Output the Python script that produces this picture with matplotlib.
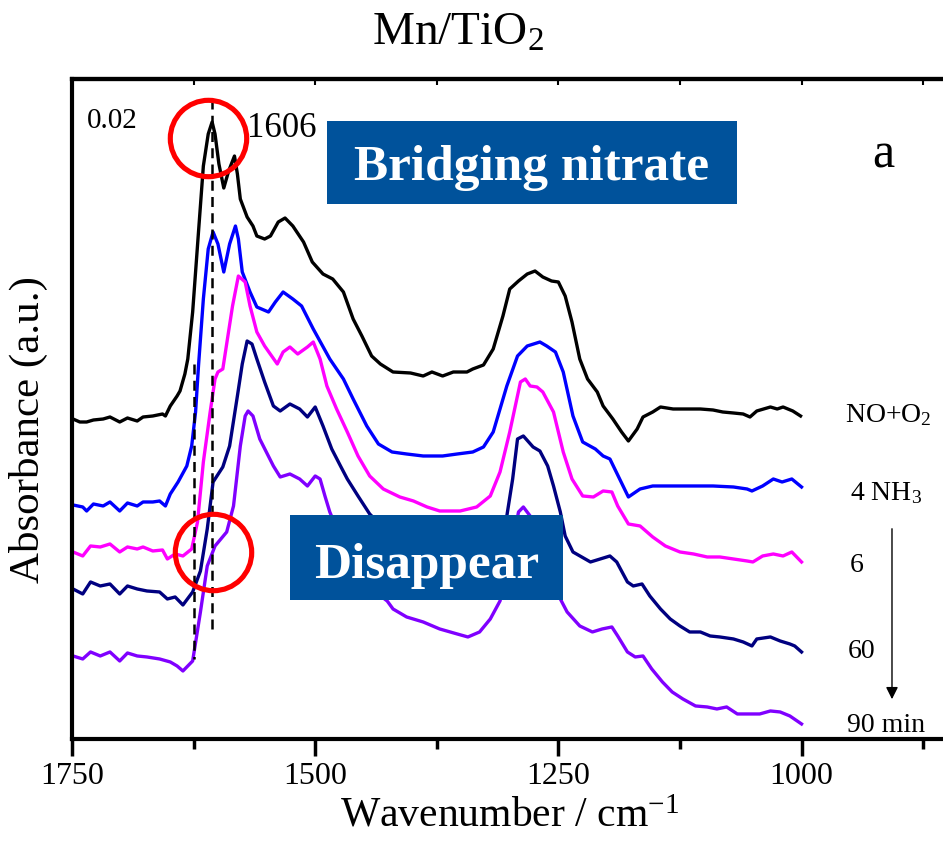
import numpy as np
import matplotlib
matplotlib.use("Agg")
import matplotlib.pyplot as plt
from matplotlib.patches import Rectangle

plt.rcParams['font.family'] = ['Liberation Serif', 'DejaVu Serif']
plt.rcParams['mathtext.fontset'] = 'custom'
plt.rcParams['mathtext.rm'] = 'Liberation Serif'
plt.rcParams['mathtext.it'] = 'Liberation Serif:italic'

# (wavenumber, absorbance) pairs, spectra already stacked with offsets
nox = [(1749,.0320),(1742,.0317),(1735,.0317),(1728,.0319),(1718,.0320),(1711,.0322),
       (1701,.0317),(1693,.0321),(1683,.0318),(1677,.0322),(1667,.0323),(1657,.0325),
       (1654,.0323),(1649,.0333),(1642,.0343),(1639,.0348),(1634,.0365),(1631,.0380),
       (1626,.0427),(1620,.0507),(1615,.0573),(1610,.0605),(1606,.0617),(1603,.0605),
       (1599,.0575),(1594,.0551),(1589,.0568),(1583,.0583),(1580,.0565),(1577,.0540),
       (1570,.0522),(1564,.0513),(1560,.0503),(1552,.0500),(1546,.0503),(1538,.0517),
       (1531,.0521),(1523,.0513),(1512,.0497),(1503,.0477),(1492,.0465),(1482,.0460),
       (1471,.0447),(1461,.0420),(1452,.0403),(1442,.0383),(1433,.0375),(1420,.0367),
       (1402,.0366),(1389,.0363),(1380,.0367),(1369,.0363),(1358,.0367),(1344,.0367),
       (1338,.0370),(1327,.0374),(1317,.0390),(1307,.0423),(1300,.0450),(1291,.0458),
       (1282,.0465),(1274,.0468),(1266,.0462),(1257,.0458),(1250,.0457),(1243,.0443),
       (1236,.0417),(1228,.0380),(1220,.0360),(1210,.0347),(1204,.0333),(1194,.0320),
       (1185,.0307),(1178,.0298),(1169,.0310),(1163,.0322),(1153,.0327),(1145,.0332),
       (1132,.0330),(1118,.0330),(1104,.0330),(1091,.0329),(1081,.0327),(1070,.0326),
       (1060,.0325),(1053,.0322),(1046,.0328),(1032,.0332),(1025,.0330),(1019,.0332),
       (1009,.0328),(1001,.0323)]

nh3_4 = [(1749,.0234),(1739,.0232),(1735,.0228),(1728,.0235),(1718,.0233),(1711,.0237),
         (1701,.0228),(1693,.0236),(1683,.0233),(1677,.0237),(1667,.0237),(1660,.0238),
         (1654,.0233),(1649,.0245),(1641,.0257),(1632,.0273),(1627,.0293),(1623,.0327),
         (1620,.0373),(1615,.0440),(1610,.0490),(1605,.0507),(1600,.0495),(1594,.0467),
         (1588,.0495),(1582,.0513),(1579,.0500),(1575,.0467),(1567,.0447),(1560,.0432),
         (1548,.0427),(1541,.0437),(1533,.0447),(1523,.0440),(1514,.0433),(1502,.0410),
         (1485,.0380),(1471,.0360),(1461,.0340),(1447,.0313),(1435,.0295),(1421,.0287),
         (1406,.0285),(1389,.0283),(1369,.0283),(1354,.0285),(1338,.0287),(1327,.0292),
         (1317,.0307),(1310,.0330),(1303,.0353),(1292,.0383),(1282,.0393),(1269,.0397),
         (1262,.0393),(1253,.0387),(1245,.0367),(1235,.0323),(1225,.0297),(1212,.0290),
         (1204,.0283),(1197,.0280),(1187,.0260),(1178,.0242),(1166,.0250),(1153,.0253),
         (1125,.0253),(1107,.0253),(1091,.0253),(1070,.0252),(1056,.0250),(1051,.0248),
         (1040,.0253),(1029,.0260),(1020,.0257),(1010,.0260),(1000,.0252)]

nh3_6 = [(1749,.0187),(1739,.0183),(1731,.0193),(1721,.0192),(1711,.0195),(1701,.0187),
         (1693,.0192),(1683,.0190),(1677,.0192),(1667,.0188),(1657,.0189),(1652,.0180),
         (1644,.0185),(1636,.0183),(1627,.0190),(1621,.0217),(1615,.0277),(1608,.0327),
         (1603,.0360),(1600,.0367),(1595,.0370),(1585,.0433),(1579,.0463),(1572,.0457),
         (1567,.0433),(1560,.0407),(1552,.0393),(1539,.0375),(1533,.0387),(1526,.0392),
         (1518,.0385),(1508,.0392),(1502,.0397),(1495,.0380),(1488,.0353),(1478,.0330),
         (1467,.0307),(1456,.0283),(1444,.0263),(1430,.0250),(1413,.0242),(1399,.0238),
         (1385,.0232),(1372,.0228),(1351,.0228),(1334,.0232),(1320,.0243),(1310,.0267),
         (1300,.0307),(1289,.0357),(1284,.0360),(1279,.0353),(1272,.0352),(1266,.0347),
         (1255,.0327),(1245,.0287),(1236,.0260),(1225,.0243),(1214,.0242),(1204,.0248),
         (1195,.0247),(1189,.0233),(1178,.0215),(1166,.0213),(1153,.0202),(1140,.0193),
         (1125,.0187),(1111,.0185),(1097,.0182),(1084,.0182),(1070,.0180),(1056,.0178),
         (1050,.0177),(1040,.0183),(1029,.0185),(1019,.0183),(1010,.0187),(1000,.0177)]

nh3_60 = [(1749,.0150),(1739,.0145),(1731,.0157),(1721,.0153),(1711,.0155),(1701,.0145),
          (1693,.0153),(1683,.0150),(1673,.0148),(1660,.0147),(1652,.0140),(1644,.0142),
          (1636,.0134),(1626,.0147),(1618,.0168),(1611,.0210),(1605,.0257),(1595,.0272),
          (1588,.0293),(1580,.0343),(1575,.0375),(1570,.0398),(1565,.0395),(1560,.0380),
          (1552,.0357),(1543,.0333),(1536,.0328),(1526,.0335),(1516,.0330),(1508,.0322),
          (1500,.0332),(1492,.0313),(1483,.0290),(1474,.0273),(1467,.0260),(1456,.0243),
          (1444,.0225),(1413,.0195),(1372,.0180),(1336,.0185),(1315,.0200),(1303,.0223),
          (1297,.0260),(1292,.0300),(1286,.0303),(1276,.0292),(1269,.0288),(1261,.0273),
          (1255,.0253),(1248,.0227),(1243,.0203),(1235,.0187),(1217,.0177),(1207,.0180),
          (1197,.0183),(1190,.0177),(1179,.0157),(1173,.0153),(1164,.0155),(1156,.0143),
          (1145,.0130),(1135,.0120),(1125,.0113),(1115,.0107),(1104,.0107),(1094,.0103),
          (1084,.0102),(1070,.0100),(1060,.0097),(1051,.0093),(1046,.0100),(1032,.0102),
          (1022,.0098),(1012,.0095),(1007,.0093),(1000,.0087)]

nh3_90 = [(1749,.0083),(1739,.0080),(1731,.0087),(1721,.0083),(1711,.0087),(1701,.0078),
          (1693,.0086),(1683,.0083),(1673,.0082),(1660,.0080),(1649,.0077),(1642,.0073),
          (1636,.0068),(1626,.0078),(1618,.0127),(1611,.0173),(1603,.0193),(1591,.0207),
          (1584,.0233),(1577,.0293),(1572,.0323),(1569,.0328),(1564,.0323),(1557,.0300),
          (1543,.0273),(1536,.0262),(1526,.0265),(1516,.0260),(1508,.0253),(1500,.0263),
          (1495,.0260),(1490,.0243),(1485,.0227),(1469,.0190),(1449,.0155),(1426,.0138),
          (1420,.0130),(1406,.0122),(1389,.0117),(1372,.0110),(1354,.0105),(1343,.0102),
          (1331,.0107),(1320,.0120),(1310,.0138),(1300,.0180),(1291,.0227),(1286,.0232),
          (1279,.0223),(1269,.0205),(1259,.0175),(1248,.0140),(1241,.0127),(1228,.0113),
          (1215,.0107),(1205,.0110),(1195,.0112),(1189,.0103),(1179,.0087),(1171,.0082),
          (1163,.0083),(1154,.0070),(1143,.0057),(1133,.0047),(1122,.0040),(1109,.0033),
          (1097,.0032),(1087,.0030),(1077,.0032),(1066,.0025),(1056,.0025),(1043,.0025),
          (1032,.0028),(1022,.0027),(1012,.0023),(1000,.0015)]

spectra = [nox, nh3_4, nh3_6, nh3_60, nh3_90]
colors = ['#000000', '#0000ff', '#ff00ff', '#000080', '#8000ff']

fig = plt.figure(figsize=(9.43, 8.45), dpi=100)
ax = fig.add_axes([0.0764, 0.1243, 0.9283, 0.7810])

for spec, c in zip(spectra, colors):
    wn, a = np.array(spec).T
    ax.plot(wn, a, color=c, lw=2.4, solid_joinstyle='round')

# guide lines at 1606 and 1625
ax.plot([1606, 1606], [.0640, .0107], color='k', lw=1.8, ls=(0, (4, 2.5)))
ax.plot([1625, 1625], [.0375, .0080], color='k', lw=1.8, ls=(0, (4, 2.5)))

# red rings
ax.plot([1610], [.0601], 'o', ms=55, mfc='none', mec='#ff0000', mew=3.7)
ax.plot([1605], [.0187], 'o', ms=55, mfc='none', mec='#ff0000', mew=3.7)

ax.text(1735, .0612, '0.02', fontsize=21, va='baseline')
ax.text(1570, .0603, '1606', fontsize=25, va='baseline')
ax.text(916, .0573, 'a', fontsize=36, va='baseline', ha='center')

# labelled boxes
box = '#00529b'
ax.add_patch(Rectangle((0.2913, 0.8106), 0.4684, 0.1258, transform=ax.transAxes,
                       facecolor=box, edgecolor='none', zorder=5))
ax.text(0.5255, 0.8485, 'Bridging nitrate', transform=ax.transAxes, color='white',
        fontsize=37, fontweight='bold', ha='center', va='baseline', zorder=6)
ax.add_patch(Rectangle((0.249, 0.2106), 0.3119, 0.1288, transform=ax.transAxes,
                       facecolor=box, edgecolor='none', zorder=5))
ax.text(0.405, 0.2455, 'Disappear', transform=ax.transAxes, color='white',
        fontsize=37, fontweight='bold', ha='center', va='baseline', zorder=6)

# series labels on the right
ax.text(955, .0318, 'NO+O$_2$', fontsize=20, va='baseline')
ax.text(950, .0240, '4 NH$_3$', fontsize=20, va='baseline')
ax.text(950, .0168, '6', fontsize=20, va='baseline')
ax.text(952, .0082, '60', fontsize=20, va='baseline')
ax.text(953, .0008, '90 min', fontsize=20, va='baseline')
ax.annotate('', xy=(907, .0037), xytext=(907, .0213),
            arrowprops=dict(arrowstyle='-|>', color='k', lw=1.0, mutation_scale=18))

ax.set_xlim(1750, 850)
ax.set_ylim(0, .066)
ax.set_yticks([])
ax.set_xticks([1750, 1500, 1250, 1000])
ax.set_xticks([1625, 1375, 1125, 875], minor=True)
ax.tick_params(axis='x', which='major', direction='out', length=12, width=2.5,
               labelsize=23, pad=4)
ax.tick_params(axis='x', which='minor', direction='out', length=7, width=2.5)
for s in ax.spines.values():
    s.set_linewidth(3)

top = ax.secondary_xaxis('top')
top.set_xticks([1750, 1625, 1500, 1375, 1250, 1125, 1000, 875])
top.tick_params(direction='in', length=4, width=1.5, labelsize=0)
top.set_xticklabels([])
top.spines['top'].set_linewidth(3)

ax.set_xlabel('Wavenumber / cm$^{\\mathrm{-1}}$', fontsize=30, labelpad=4)
ax.set_ylabel('Absorbance (a.u.)', fontsize=31)
ax.yaxis.set_label_coords(-0.028, 0.47)

fig.text(458 / 943, 1 - 45 / 845, 'Mn/TiO$_2$', fontsize=34, ha='center', va='baseline')

fig.savefig('out.png', dpi=100)
